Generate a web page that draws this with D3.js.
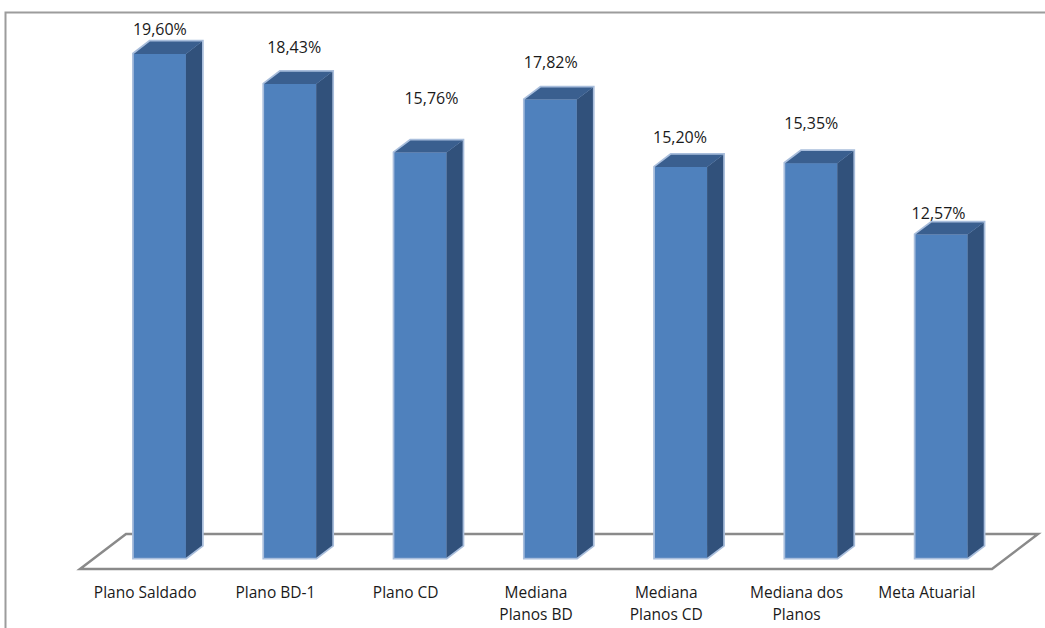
<!DOCTYPE html>
<html>
<head>
<meta charset="utf-8">
<script src="https://cdn.jsdelivr.net/npm/d3@7"></script>
<style>
  html, body { margin: 0; padding: 0; background: #fff; }
  svg { display: block; }
  text { font-family: "Open Sans", "Noto Sans", sans-serif; fill: #1a1a1a; }
</style>
</head>
<body>
<svg id="chart" width="1045" height="628"></svg>
<script>
// Returns by plan (percent)
const categories = [
  ["Plano Saldado"],
  ["Plano BD-1"],
  ["Plano CD"],
  ["Mediana", "Planos BD"],
  ["Mediana", "Planos CD"],
  ["Mediana dos", "Planos"],
  ["Meta Atuarial"]
];
const values = [19.60, 18.43, 15.76, 17.82, 15.20, 15.35, 12.57];
const valueLabels = ["19,60%", "18,43%", "15,76%", "17,82%", "15,20%", "15,35%", "12,57%"];

// Layout
const svg = d3.select("#chart");
const floorFront = { left: 80, right: 992, y: 569 };
const depth = { dx: 46, dy: -35 };        // full floor depth vector
const barDepth = [0.32, 0.67];            // front/back fractions of the floor depth
// per-label nudges (dx, dy of label centre from the bar's front-top centre)
const labelNudge = [[0, -24], [4, -37], [11, -54], [0, -37], [-1, -30], [0, -40], [-3, -21]];
const catFont = 15.5, valueFont = 16;

const x = d3.scaleBand()
  .domain(d3.range(categories.length))
  .range([floorFront.left, floorFront.right])
  .paddingInner(0.6)
  .paddingOuter(0.3);

const y = d3.scaleLinear()
  .domain([0, 20])
  .range([floorFront.y, floorFront.y - 514.2]);

// chart border
svg.append("rect")
  .attr("x", 5.5).attr("y", 12.5)
  .attr("width", 1060).attr("height", 640)
  .attr("fill", "none")
  .attr("stroke", "#9c9c9c")
  .attr("stroke-width", 2);

// floor
const fl = floorFront.left, fr = floorFront.right;
svg.append("path")
  .attr("d", `M${fl},${floorFront.y} L${fr},${floorFront.y} L${fr + depth.dx},${floorFront.y + depth.dy} L${fl + depth.dx},${floorFront.y + depth.dy} Z`)
  .attr("fill", "#fff")
  .attr("stroke", "#8a8a8a")
  .attr("stroke-width", 2.5)
  .attr("stroke-linejoin", "miter");

// bars
const pt = (px, py) => px.toFixed(1) + "," + py.toFixed(1);
svg.append("g").selectAll("g")
  .data(values)
  .join("g")
  .each(function (v, i) {
    const g = d3.select(this);
    const f0x = depth.dx * barDepth[0], f0y = depth.dy * barDepth[0];
    const ddx = depth.dx * (barDepth[1] - barDepth[0]);
    const ddy = depth.dy * (barDepth[1] - barDepth[0]);
    const x0 = x(i) + f0x, x1 = x0 + x.bandwidth();
    const yb = y(0) + f0y, yt = y(v) + f0y;

    // soft light rim round the silhouette
    g.append("polygon")
      .attr("points", [pt(x0, yb), pt(x0, yt), pt(x0 + ddx, yt + ddy), pt(x1 + ddx, yt + ddy), pt(x1 + ddx, yb + ddy), pt(x1, yb)].join(" "))
      .attr("fill", "#a9bedc")
      .attr("stroke", "#a9bedc")
      .attr("stroke-width", 3.5)
      .attr("stroke-linejoin", "miter");
    // front face
    g.append("rect")
      .attr("x", x0).attr("y", yt)
      .attr("width", x1 - x0).attr("height", yb - yt)
      .attr("fill", "#4f81bd");
    // side face
    g.append("polygon")
      .attr("points", [pt(x1, yt), pt(x1 + ddx, yt + ddy), pt(x1 + ddx, yb + ddy), pt(x1, yb)].join(" "))
      .attr("fill", "#31517b");
    // top face
    g.append("polygon")
      .attr("points", [pt(x0, yt), pt(x0 + ddx, yt + ddy), pt(x1 + ddx, yt + ddy), pt(x1, yt)].join(" "))
      .attr("fill", "#3a5f8f");

    // value label
    g.append("text")
      .attr("x", (x0 + x1) / 2 + labelNudge[i][0])
      .attr("y", yt + labelNudge[i][1])
      .attr("dy", "0.35em")
      .attr("text-anchor", "middle")
      .attr("font-size", valueFont)
      .text(valueLabels[i]);
  });

// category labels along the floor front edge
const cat = svg.append("g").selectAll("text")
  .data(categories)
  .join("text")
  .attr("text-anchor", "middle")
  .attr("font-size", catFont)
  .attr("transform", (d, i) => `translate(${x(i) + x.bandwidth() / 2},598)`);
cat.selectAll("tspan")
  .data(d => d)
  .join("tspan")
  .attr("x", 0)
  .attr("y", (d, j) => j * 22)
  .text(d => d);
</script>
</body>
</html>
